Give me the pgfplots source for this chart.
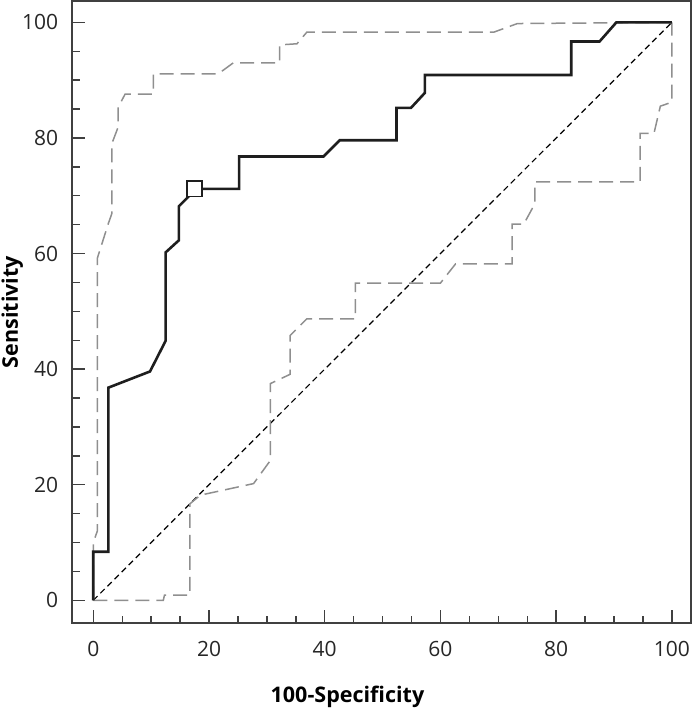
\documentclass[border=0pt]{standalone}
\usepackage{pgfplots}
\pgfplotsset{compat=1.18}
\usepackage{fontspec}
\setmainfont{Open Sans}
\definecolor{axisgray}{HTML}{404040}
\definecolor{cigray}{HTML}{8F8F8F}
\definecolor{roc}{HTML}{1E1E1E}

\begin{document}
\begin{tikzpicture}
\useasboundingbox (0,0) rectangle (693pt,710pt);
\begin{axis}[
    at={(72pt,87pt)}, anchor=south west,
    scale only axis,
    width=619pt, height=622pt,
    xmin=-3.68, xmax=103.3,
    ymin=-3.92, ymax=103.7,
    xtick={0,20,...,100}, ytick={0,20,...,100},
    minor xtick={0,5,...,100}, minor ytick={0,5,...,100},
    tick pos=left,
    tick align=inside,
    major tick length=13pt, minor tick length=7.5pt,
    axis line style={axisgray, line width=1.7pt},
    every tick/.style={axisgray, line width=1.4pt},
    /pgf/number format/assume math mode=true,
    tick label style={font=\fontsize{21}{25}\selectfont, text=black!85},
    xticklabel style={anchor=base, inner sep=0pt, yshift=-33.3pt},
    yticklabel style={anchor=east, inner sep=0pt, xshift=-13.7pt},
    label style={font=\fontsize{21.5}{25}\selectfont\bfseries, inner sep=0pt},
    xlabel={100-Specificity},
    ylabel={Sensitivity},
    xlabel style={at={(axis description cs:0.445,0)}, anchor=base, yshift=-79pt},
    ylabel style={at={(axis description cs:0,0.5)}, anchor=base, yshift=54pt},
    clip=false,
]
% reference diagonal
\addplot[black, line width=1.2pt, dash pattern=on 6pt off 4pt] coordinates {(0,0) (100,100)};
% upper confidence bound
\addplot[cigray, line width=1.5pt, dash pattern=on 14pt off 7pt] coordinates {
(0,0) (0,10) (0.7,12) (0.7,59.2) (2.6,65.2) (3.2,66.9) (3.2,79.0) (4.3,81.9) (4.3,85.3)
(5.5,87.6) (10.4,87.6) (10.4,91.1) (21.6,91.1) (24.2,93.0) (32.2,93.0) (32.2,96.1)
(35.2,96.3) (36.9,98.3) (69.2,98.3) (73.3,99.8) (100,100)};
% lower confidence bound
\addplot[cigray, line width=1.5pt, dash pattern=on 14pt off 7pt] coordinates {
(0,0) (12.1,0) (12.3,0.9) (16.7,0.9) (16.7,16.7) (18.5,18.2) (27.7,20.2) (30.6,24.2)
(30.6,37.5) (34.0,39.1) (34.0,45.8) (36.9,48.7) (45.3,48.7) (45.3,54.9) (60.0,54.9)
(62.6,58.2) (72.4,58.2) (72.4,65.1) (74.4,65.1) (76.3,68.6) (76.3,72.4) (94.5,72.4)
(94.5,80.8) (96.9,80.8) (98.0,85.5) (100,86.2) (100,100)};
% ROC curve
\addplot[roc, line width=2.6pt, line join=miter] coordinates {
(0,0) (0,8.4) (2.6,8.4) (2.6,36.8) (9.8,39.6) (12.5,44.9) (12.5,60.2) (14.8,62.3)
(14.8,68.2) (16.4,69.8) (17.5,71.2) (25.2,71.2) (25.2,76.8) (39.8,76.8) (42.6,79.6)
(52.4,79.6) (52.4,85.2) (54.9,85.2) (57.3,87.8) (57.3,90.9) (82.6,90.9) (82.6,96.7)
(87.5,96.7) (90.4,100) (100,100)};
% optimal cut-off point
\addplot[only marks, mark=square*, mark size=7.6pt,
  mark options={fill=white, draw=roc, line width=1.6pt}] coordinates {(17.5,71.2)};
\end{axis}
\end{tikzpicture}
\end{document}
